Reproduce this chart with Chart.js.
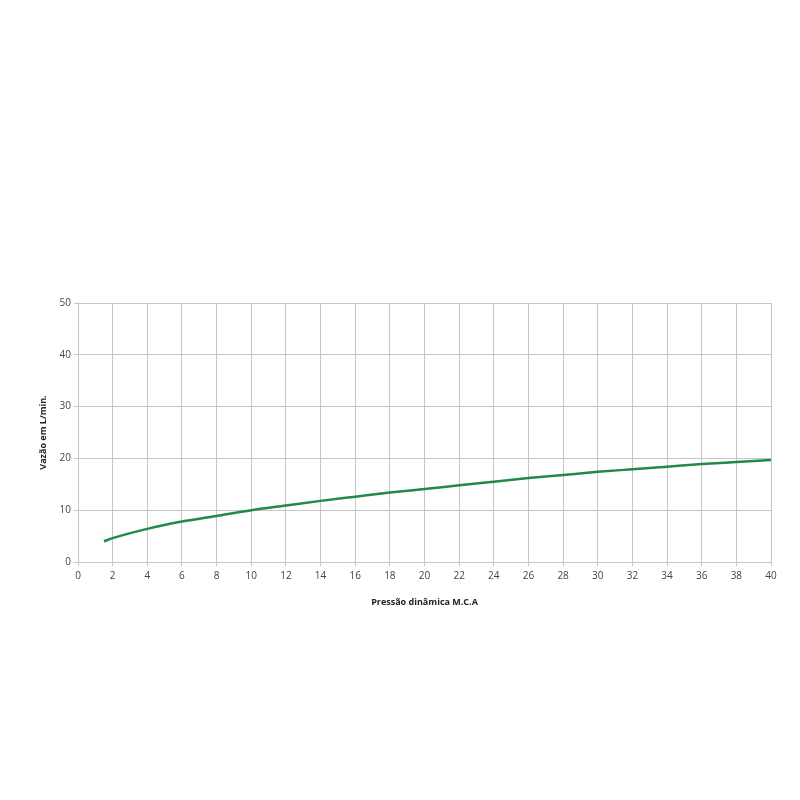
<!DOCTYPE html>
<html>
<head>
<meta charset="utf-8">
<script src="https://cdn.jsdelivr.net/npm/chart.js@4/dist/chart.umd.min.js"></script>
<style>
  html, body { margin: 0; padding: 0; background: #fff; }
  #wrap { width: 800px; height: 800px; }
</style>
</head>
<body>
<div id="wrap"><canvas id="myChart" width="800" height="800"></canvas></div>
<script>
// pressure (m.c.a) and flow (L/min)
var pressure = [1.5, 2, 4, 6, 8, 10, 12, 14, 16, 18, 20, 22, 24, 26, 28, 30, 32, 34, 36, 38, 40];
var flow     = [4.0, 4.6, 6.4, 7.8, 8.9, 10.0, 10.9, 11.8, 12.6, 13.4, 14.1, 14.8, 15.5, 16.2, 16.8, 17.4, 17.9, 18.4, 18.9, 19.3, 19.7];
var xTitle = 'Pressão dinâmica M.C.A';
var yTitle = 'Vazão em L/min.';

var gridGray = '#c6c6c6';
var textGray = '#444';

function drawChart() {
  var points = pressure.map(function (p, i) { return { x: p, y: flow[i] }; });

  var element = document.getElementById('myChart').getContext('2d');
  var myChart = new Chart(element, {
    type: 'line',
    data: {
      datasets: [{
        data: points,
        borderColor: '#1f8a4a',
        borderWidth: 2.5,
        pointRadius: 0,
        cubicInterpolationMode: 'monotone',
        fill: false
      }]
    },
    options: {
      responsive: false,
      animation: false,
      layout: { padding: { left: 38, right: 29, top: 303, bottom: 192 } },
      plugins: { legend: { display: false }, tooltip: { enabled: false } },
      scales: {
        x: {
          type: 'linear',
          min: 0, max: 40,
          ticks: { stepSize: 2, color: textGray, font: { family: 'Open Sans', size: 10 }, padding: 4, maxRotation: 0 },
          grid: { color: gridGray, tickLength: 4 },
          border: { color: gridGray },
          title: { display: true, text: xTitle, color: '#222', font: { family: 'Open Sans', size: 9, weight: 'bold' }, padding: 0 },
          afterFit: function (scale) { scale.height = 46; }
        },
        y: {
          min: 0, max: 50,
          ticks: { stepSize: 10, color: textGray, font: { family: 'Open Sans', size: 10 }, padding: 3 },
          grid: { color: gridGray, tickLength: 4 },
          border: { color: gridGray },
          title: { display: true, text: yTitle, color: '#222', font: { family: 'Open Sans', size: 9, weight: 'bold' }, padding: 0 },
          afterFit: function (scale) { scale.width = 40; }
        }
      }
    }
  });
}

drawChart();
</script>
</body>
</html>
